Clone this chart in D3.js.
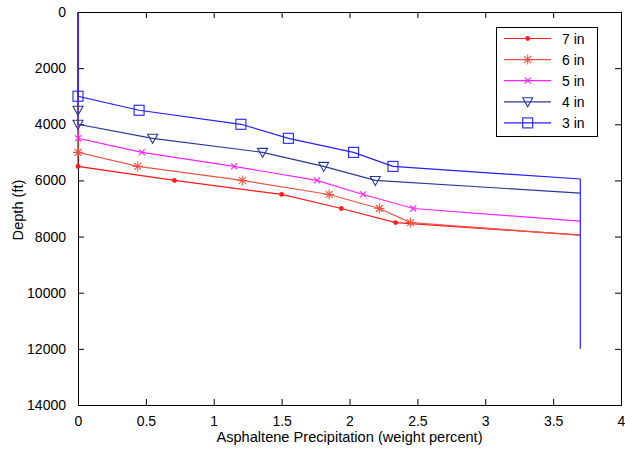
<!DOCTYPE html>
<html>
<head>
<meta charset="utf-8">
<script src="https://cdn.jsdelivr.net/npm/d3@7"></script>
<style>
  html, body { margin: 0; padding: 0; background: #fff; }
  svg { display: block; font-family: "Liberation Sans", Arial, sans-serif; }
</style>
</head>
<body>
<svg id="chart" width="625" height="450"></svg>
<script>
// ---- Data ----
const seriesNames = ["7 in", "6 in", "5 in", "4 in", "3 in"];
const seriesColors = ["#ff1a1a", "#ee5544", "#ff22ff", "#2a3a9a", "#2222ff"];
const seriesMarkers = ["dot", "star", "cross", "tri", "square"];

// x = asphaltene precipitation (wt %), d = depth (ft), m = 1 where a marker is drawn
const x7in = [0, 0, 0.71, 1.50, 1.94, 2.34, 3.70];
const d7in = [0, 5500, 6000, 6500, 7000, 7500, 7950];
const m7in = [0, 1, 1, 1, 1, 1, 0];

const x6in = [0, 0, 0.44, 1.21, 1.85, 2.22, 2.45, 3.70];
const d6in = [0, 5000, 5500, 6000, 6500, 7000, 7500, 7950];
const m6in = [0, 1, 1, 1, 1, 1, 1, 0];

const x5in = [0, 0, 0.47, 1.15, 1.76, 2.10, 2.47, 3.70];
const d5in = [0, 4500, 5000, 5500, 6000, 6500, 7000, 7450];
const m5in = [0, 1, 1, 1, 1, 1, 1, 0];

const x4in = [0, 0, 0, 0.55, 1.36, 1.81, 2.19, 3.70];
const d4in = [0, 3500, 4000, 4500, 5000, 5500, 6000, 6450];
const m4in = [0, 1, 1, 1, 1, 1, 1, 0];

const x3in = [0, 0, 0.45, 1.20, 1.55, 2.03, 2.32, 3.70, 3.70];
const d3in = [0, 3000, 3500, 4000, 4500, 5000, 5500, 5950, 12000];
const m3in = [0, 1, 1, 1, 1, 1, 1, 0, 0];

const xTicks = [0, 0.5, 1, 1.5, 2, 2.5, 3, 3.5, 4];
const yTicks = [0, 2000, 4000, 6000, 8000, 10000, 12000, 14000];
const xLabel = "Asphaltene Precipitation (weight percent)";
const yLabel = "Depth (ft)";

const seriesX = [x7in, x6in, x5in, x4in, x3in];
const seriesD = [d7in, d6in, d5in, d4in, d3in];
const seriesM = [m7in, m6in, m5in, m4in, m3in];

// ---- Layout ----
const svg = d3.select("#chart");
const plotL = 78, plotR = 621, plotT = 12, plotB = 405;

const x = d3.scaleLinear().domain([0, 4]).range([plotL, plotR]);
const y = d3.scaleLinear().domain([0, 14000]).range([plotT, plotB]);

const tickLen = 6;
const fontSize = 14;

// Plot box
svg.append("rect")
  .attr("x", plotL).attr("y", plotT)
  .attr("width", plotR - plotL).attr("height", plotB - plotT)
  .attr("fill", "#fff").attr("stroke", "none");

// Axes (inward ticks, MATLAB style)
const xAxisB = d3.axisBottom(x).tickValues(xTicks).tickSizeInner(-tickLen).tickSizeOuter(0)
  .tickPadding(tickLen + 5).tickFormat(d3.format("~g"));
const xAxisT = d3.axisTop(x).tickValues(xTicks).tickSizeInner(-tickLen).tickSizeOuter(0).tickFormat("");
const yAxisL = d3.axisLeft(y).tickValues(yTicks).tickSizeInner(-tickLen).tickSizeOuter(0)
  .tickPadding(tickLen + 6).tickFormat(d3.format("d"));
const yAxisR = d3.axisRight(y).tickValues(yTicks).tickSizeInner(-tickLen).tickSizeOuter(0).tickFormat("");

function styleAxis(g) {
  g.select(".domain").attr("stroke", "#000").attr("stroke-width", 1);
  g.selectAll(".tick line").attr("stroke", "#000").attr("stroke-width", 1);
  g.selectAll(".tick text").attr("fill", "#000")
    .style("font-size", fontSize + "px")
    .style("font-family", "'Liberation Sans', Arial, sans-serif");
}

svg.append("g").attr("transform", `translate(0,${plotB})`).call(xAxisB).call(styleAxis);
svg.append("g").attr("transform", `translate(0,${plotT})`).call(xAxisT).call(styleAxis);
svg.append("g").attr("transform", `translate(${plotL},0)`).call(yAxisL).call(styleAxis);
svg.append("g").attr("transform", `translate(${plotR},0)`).call(yAxisR).call(styleAxis);

// Axis titles
svg.append("text")
  .attr("x", (plotL + plotR) / 2).attr("y", 442)
  .attr("text-anchor", "middle")
  .style("font-size", "14.6px")
  .attr("fill", "#000")
  .text(xLabel);

svg.append("text")
  .attr("transform", `translate(23,210) rotate(-90)`)
  .attr("text-anchor", "middle")
  .style("font-size", "14.6px")
  .attr("fill", "#000")
  .text(yLabel);

// ---- Markers ----
function drawMarker(g, type, cx, cy, color) {
  if (type === "dot") {
    g.append("circle").attr("cx", cx).attr("cy", cy).attr("r", 2.4).attr("fill", color);
  } else if (type === "star") {
    const r = 5;
    const p = `M${cx - r},${cy}L${cx + r},${cy}M${cx},${cy - r}L${cx},${cy + r}` +
      `M${cx - r * 0.7},${cy - r * 0.7}L${cx + r * 0.7},${cy + r * 0.7}` +
      `M${cx - r * 0.7},${cy + r * 0.7}L${cx + r * 0.7},${cy - r * 0.7}`;
    g.append("path").attr("d", p).attr("stroke", color).attr("stroke-width", 1.1).attr("fill", "none");
  } else if (type === "cross") {
    const r = 3;
    const p = `M${cx - r},${cy - r}L${cx + r},${cy + r}M${cx - r},${cy + r}L${cx + r},${cy - r}`;
    g.append("path").attr("d", p).attr("stroke", color).attr("stroke-width", 1.1).attr("fill", "none");
  } else if (type === "tri") {
    const w = 5;
    const p = `M${cx - w},${cy - 4}L${cx + w},${cy - 4}L${cx},${cy + 5}Z`;
    g.append("path").attr("d", p).attr("stroke", color).attr("stroke-width", 1.1).attr("fill", "none");
  } else if (type === "square") {
    const h = 5;
    g.append("rect").attr("x", cx - h).attr("y", cy - h).attr("width", 2 * h).attr("height", 2 * h)
      .attr("stroke", color).attr("stroke-width", 1.1).attr("fill", "none");
  }
}

// ---- Series ----
const line = d3.line().x(p => x(p[0])).y(p => y(p[1]));
const plot = svg.append("g");

seriesNames.forEach((name, i) => {
  const pts = seriesX[i].map((v, j) => [v, seriesD[i][j], seriesM[i][j]]);
  const g = plot.append("g");
  g.append("path")
    .attr("d", line(pts))
    .attr("fill", "none")
    .attr("stroke", seriesColors[i])
    .attr("stroke-width", 1.2);
  pts.filter(p => p[2] === 1).forEach(p => {
    drawMarker(g, seriesMarkers[i], x(p[0]), y(p[1]), seriesColors[i]);
  });
});

// ---- Legend ----
const lg = svg.append("g");
const lgX0 = 496, lgY0 = 27, lgW = 101, lgH = 109;
lg.append("rect")
  .attr("x", lgX0 + 0.5).attr("y", lgY0 + 0.5)
  .attr("width", lgW).attr("height", lgH)
  .attr("fill", "#fff").attr("stroke", "#000").attr("stroke-width", 1);

seriesNames.forEach((name, i) => {
  const cy = 38.5 + i * 21.1;
  lg.append("line")
    .attr("x1", 504).attr("x2", 551).attr("y1", cy).attr("y2", cy)
    .attr("stroke", seriesColors[i]).attr("stroke-width", 1.2);
  drawMarker(lg, seriesMarkers[i], 527.7, cy, seriesColors[i]);
  lg.append("text")
    .attr("x", 562).attr("y", cy + 5)
    .style("font-size", fontSize + "px")
    .attr("fill", "#000")
    .text(name);
});
</script>
</body>
</html>
